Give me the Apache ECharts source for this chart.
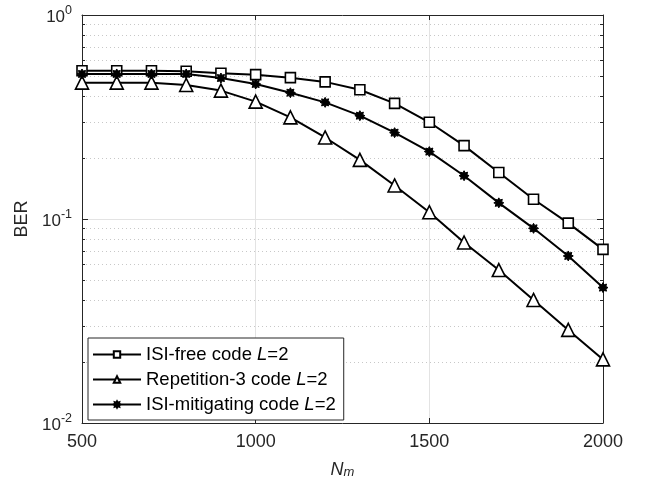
<!DOCTYPE html>
<html><head><meta charset="utf-8">
<script src="https://cdn.jsdelivr.net/npm/echarts@6/dist/echarts.min.js"></script>
<style>html,body{margin:0;padding:0;background:#fff}#c{width:647px;height:485px}</style>
</head><body><div id="c"></div>
<script>
// ---- data ----
const nm = [500,600,700,800,900,1000,1100,1200,1300,1400,1500,1600,1700,1800,1900,2000];
const isiFree = [0.533,0.533,0.533,0.530,0.518,0.510,0.493,0.470,0.430,0.369,0.298,0.229,0.169,0.125,0.0955,0.071];
const repetition3 = [0.466,0.466,0.466,0.454,0.426,0.376,0.315,0.251,0.195,0.146,0.108,0.0767,0.0562,0.0401,0.0286,0.0205];
const isiMitigating = [0.514,0.514,0.514,0.514,0.491,0.459,0.416,0.373,0.321,0.265,0.214,0.163,0.120,0.090,0.0659,0.0461];
const seriesNames = ['ISI-free code L=2','Repetition-3 code L=2','ISI-mitigating code L=2'];
const xTicks = [500,1000,1500,2000];
const yDecades = [0.01,0.1,1];
const yMinor = [0.02,0.03,0.04,0.05,0.06,0.07,0.08,0.09,0.2,0.3,0.4,0.5,0.6,0.7,0.8,0.9];

// ---- styles ----
const FONT = "'Liberation Sans', Arial, Helvetica, sans-serif";
const AX = '#262626';
const GRIDC = '#e3e3e3';
const MINORC = '#c8c8c8';

// asterisk-like star path
function starPath(n, rIn){
  let d = '';
  for (let k = 0; k < 2*n; k++){
    const a = Math.PI * k / n - Math.PI/2;
    const r = (k % 2 === 0) ? 1 : rIn;
    d += (k === 0 ? 'M' : 'L') + (r*Math.cos(a)).toFixed(3) + ' ' + (r*Math.sin(a)).toFixed(3) + ' ';
  }
  return 'path://' + d + 'Z';
}
const STAR = starPath(8, 0.62);

const pair = arr => nm.map((x,i)=>[x, arr[i]]);
const xMin = xTicks[0], xMax = xTicks[xTicks.length-1];
const yMin = yDecades[0], yMax = yDecades[yDecades.length-1];

const chart = echarts.init(document.getElementById('c'), null, {renderer:'canvas'});

const lineSeries = (name, data, symbol, size, fill, bw) => ({
  name, type:'line', data: pair(data), xAxisIndex:0, yAxisIndex:0,
  symbol, symbolSize: size, showSymbol:true,
  lineStyle:{color:'#000', width:2},
  itemStyle:{color: fill, borderColor:'#000', borderWidth: bw},
  emphasis:{disabled:true}, animation:false, z:5
});

const option = {
  animation:false,
  grid:{left:82, right:44, top:15, bottom:62, containLabel:false},
  xAxis:[{
    type:'value', min:xMin, max:xMax, interval:500, position:'bottom',
    name:'{i|N}{s|m}', nameLocation:'middle', nameGap:34,
    nameTextStyle:{rich:{
      i:{fontFamily:FONT, fontSize:18, fontStyle:'italic', color:AX, verticalAlign:'bottom', lineHeight:22},
      s:{fontFamily:FONT, fontSize:13, fontStyle:'italic', color:AX, verticalAlign:'bottom', lineHeight:18}
    }},
    axisLine:{show:true, lineStyle:{color:AX, width:1}},
    axisTick:{show:true, inside:true, length:5, lineStyle:{color:AX}},
    axisLabel:{fontFamily:FONT, fontSize:18, color:AX, margin:10, formatter: v => String(v)},
    splitLine:{show:true, lineStyle:{color:GRIDC, width:1}}
  },{
    type:'value', min:xMin, max:xMax, interval:500, position:'top',
    axisLine:{show:true, lineStyle:{color:AX, width:1}},
    axisTick:{show:true, inside:true, length:5, lineStyle:{color:AX}},
    axisLabel:{show:false}, splitLine:{show:false}
  }],
  yAxis:[{
    type:'log', logBase:10, min:yMin, max:yMax, position:'left',
    name:'BER', nameLocation:'middle', nameGap:50, nameRotate:90,
    nameTextStyle:{fontFamily:FONT, fontSize:18, color:AX},
    axisLine:{show:true, lineStyle:{color:AX, width:1}},
    axisTick:{show:true, inside:true, length:6, lineStyle:{color:AX}},
    axisLabel:{
      margin:10, color:AX,
      formatter: v => '{b|10}{s|' + Math.round(Math.log10(v)) + '}',
      rich:{
        b:{fontFamily:FONT, fontSize:17, color:AX, verticalAlign:'bottom', lineHeight:22},
        s:{fontFamily:FONT, fontSize:12.5, color:AX, verticalAlign:'top', lineHeight:22}
      }
    },
    splitLine:{show:true, lineStyle:{color:GRIDC, width:1}}
  },{
    type:'log', logBase:10, min:yMin, max:yMax, position:'right',
    axisLine:{show:true, lineStyle:{color:AX, width:1}},
    axisTick:{show:true, inside:true, length:6, lineStyle:{color:AX}},
    axisLabel:{show:false}, splitLine:{show:false}
  }],
  legend:{
    orient:'vertical', left:88, top:338,
    data: seriesNames,
    backgroundColor:'#fff', borderColor:AX, borderWidth:1, borderRadius:0,
    padding:[6,8,5,4], itemGap:4, itemWidth:48, itemHeight:8,
    textStyle:{fontFamily:FONT, fontSize:18.5, color:'#000', lineHeight:21,
      rich:{
        n:{fontFamily:FONT, fontSize:18.5, color:'#000'},
        i:{fontFamily:FONT, fontSize:18.5, color:'#000', fontStyle:'italic'}
      }},
    formatter: name => {
      const k = name.lastIndexOf('L=');
      return '{n|' + name.slice(0,k) + '}{i|L}{n|' + name.slice(k+1) + '}';
    },
    selectedMode:false
  },
  series:[
    {
      type:'custom', xAxisIndex:0, yAxisIndex:0, silent:true, z:1,
      data: yMinor.map(v => [xMin, v]),
      renderItem:(params, api) => {
        const cs = params.coordSys;
        const y = Math.round(api.coord([xMin, api.value(1)])[1]) + 0.5;
        const l = cs.x, r = cs.x + cs.width;
        return {type:'group', children:[
          {type:'line', shape:{x1:l, y1:y, x2:r, y2:y}, style:{stroke:MINORC, lineWidth:1, lineDash:[1,3]}},
          {type:'line', shape:{x1:l, y1:y, x2:l+3, y2:y}, style:{stroke:AX, lineWidth:1}},
          {type:'line', shape:{x1:r-3, y1:y, x2:r, y2:y}, style:{stroke:AX, lineWidth:1}}
        ]};
      }
    },
    lineSeries(seriesNames[0], isiFree, 'rect', 10, '#fff', 1.6),
    lineSeries(seriesNames[1], repetition3, 'triangle', 13, '#fff', 1.6),
    lineSeries(seriesNames[2], isiMitigating, STAR, 10, '#000', 1)
  ]
};
chart.setOption(option);
</script></body></html>
